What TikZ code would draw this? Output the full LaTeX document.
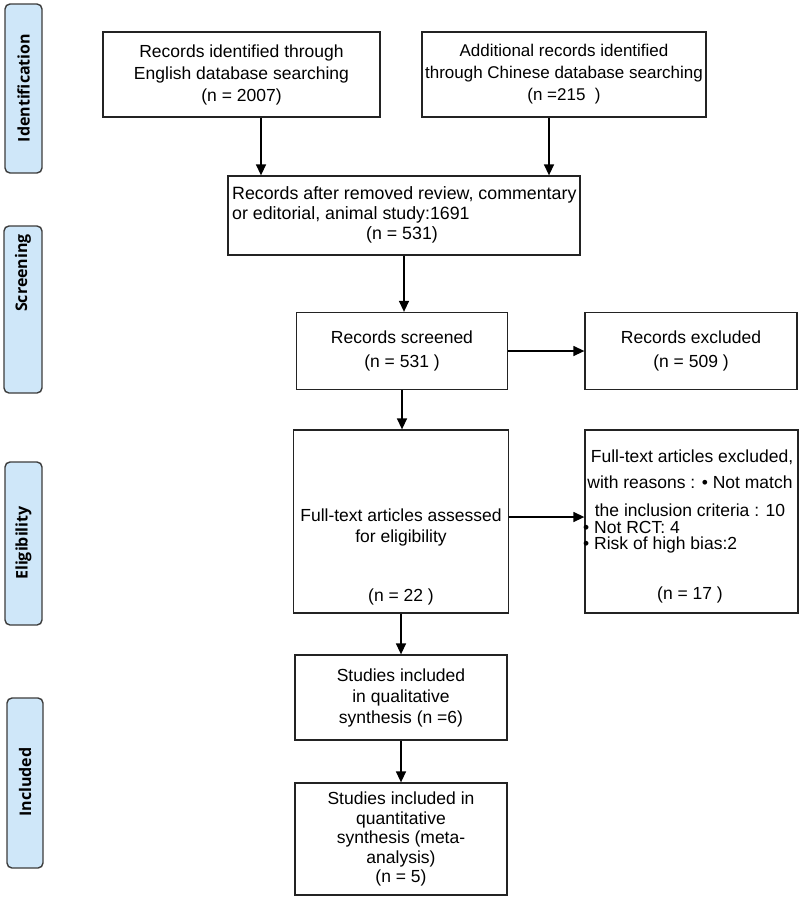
\documentclass[tikz,border=0pt]{standalone}
\usepackage{fontspec}
\setmainfont{Liberation Sans}
\newfontfamily\labfont{Open Sans}
\usetikzlibrary{arrows.meta,calc}
\definecolor{sidefill}{RGB}{207,231,249}
\definecolor{sidedraw}{RGB}{60,60,60}
\definecolor{boxdraw}{RGB}{35,35,35}
\tikzset{
  box/.style={draw=boxdraw, line width=1.3pt, rectangle, inner sep=0pt, align=center,
    font=\fontsize{17.5}{22}\selectfont},
  txt/.style={inner sep=0pt, align=center, font=\fontsize{17.5}{22}\selectfont},
  side/.style={draw=sidedraw, fill=sidefill, line width=1.4pt, rounded corners=5pt, inner sep=0pt},
  sidetxt/.style={rotate=90, inner sep=0pt, font=\labfont\bfseries\fontsize{16}{18}\selectfont},
  arr/.style={draw=black, line width=1.4pt, -{Triangle[width=10pt,length=11pt]}}
}
\begin{document}
\begin{tikzpicture}[x=1pt,y=-1pt]
\useasboundingbox (0,0) rectangle (800,898);
% side labels
\node[side, minimum width=37, minimum height=169] (sid) at (23.5,88.5) {};
\node[sidetxt] (sidt) at (23.5,88) {Identification};
\node[side, minimum width=38, minimum height=167] (sscr) at (23,309.5) {};
\node[sidetxt] (sscrt) at (23,273) {Screening};
\node[side, minimum width=37, minimum height=163] (sel) at (23.5,543.5) {};
\node[sidetxt] (selt) at (23.5,543) {Eligibility};
\node[side, minimum width=36, minimum height=170] (sin) at (25,783) {};
\node[sidetxt] (sint) at (25,782) {Included};
% boxes
\node[box, minimum width=277, minimum height=85] (A) at (241.5,74.5)
  {Records identified through\\English database searching\\(n = 2007)};
\node[box, minimum width=284, minimum height=85, font=\fontsize{17}{22}\selectfont] (B) at (564,74.5)
  {Additional records identified\\through Chinese database searching\\(n =215\ \ )};
\node[box, minimum width=352, minimum height=79] (C) at (404,215.5) {};
\node[txt, anchor=west, align=left, font=\fontsize{17.8}{20}\selectfont] (Ct) at (232,205)
  {Records after removed review, commentary\\or editorial, animal study:1691};
\node[txt, font=\fontsize{17.8}{20}\selectfont] (Cn) at (402,235) {(n = 531)};
\node[box, minimum width=211, minimum height=77, font=\fontsize{17.5}{24}\selectfont] (D) at (402,351)
  {Records screened\\(n = 531 )};
\node[box, minimum width=212, minimum height=77, font=\fontsize{17.5}{24}\selectfont] (E) at (691,351)
  {Records excluded\\(n = 509 )};
\node[box, minimum width=215, minimum height=183] (F) at (401,521.5) {};
\node[txt, font=\fontsize{17.5}{21}\selectfont] (Ft) at (401,527.5)
  {Full-text articles assessed\\for eligibility};
\node[txt] (Fn) at (401,597) {(n = 22 )};
\node[box, minimum width=213, minimum height=183] (G) at (691.5,521.5) {};
\node[txt] (G1) at (692,457) {Full-text articles excluded,};
\node[txt] (G2) at (690,482) {with reasons : \textbullet\ Not match};
\node[txt] (G3) at (690,510) {the inclusion criteria : 10};
\node[txt, anchor=west] (G4) at (583,527) {\textbullet\ Not RCT: 4};
\node[txt, anchor=west] (G5) at (583,545) {\textbullet\ Risk of high bias:2};
\node[txt] (Gn) at (690,595) {(n = 17 )};
\node[box, minimum width=212, minimum height=85, font=\fontsize{17.5}{21}\selectfont] (H) at (401,697.5)
  {Studies included\\in qualitative\\synthesis (n =6)};
\node[box, minimum width=212, minimum height=112, font=\fontsize{17.5}{19.5}\selectfont] (I) at (401,839)
  {Studies included in\\quantitative\\synthesis (meta-\\analysis)\\(n = 5)};
% arrows
\draw[arr] ([xshift=19.5pt]A.south) -- ([xshift=19.5pt]A.south |- C.north);
\draw[arr] ([xshift=-15pt]B.south) -- ([xshift=-15pt]B.south |- C.north);
\draw[arr] (C.south) -- (C.south |- D.north);
\draw[arr] (D.east) -- (D.east -| E.west);
\draw[arr] (D.south) -- (D.south |- F.north);
\draw[arr] ([yshift=4.5pt]F.east) -- ([yshift=4.5pt]F.east -| G.west);
\draw[arr] (F.south) -- (F.south |- H.north);
\draw[arr] (H.south) -- (H.south |- I.north);
\end{tikzpicture}
\end{document}
